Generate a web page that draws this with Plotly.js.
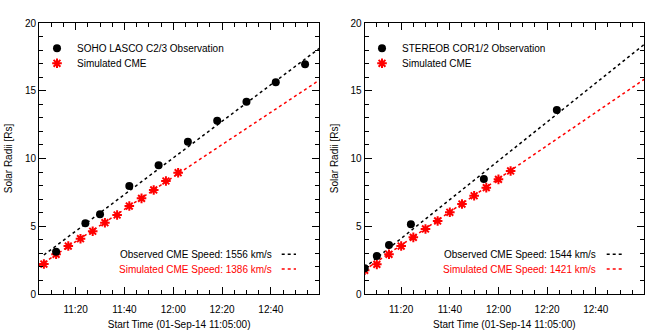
<!DOCTYPE html>
<html>
<head>
<meta charset="utf-8">
<script src="https://cdn.plot.ly/plotly-3.0.1.min.js"></script>
<style>
  html, body { margin: 0; padding: 0; background: #fff; }
  #plot { width: 667px; height: 334px; }
</style>
</head>
<body>
<div id="plot"></div>
<script>
const day = "2014-09-01 ";

// left panel: SOHO LASCO C2/C3
const lascoTimes = ["11:12", "11:24", "11:30", "11:42", "11:54", "12:06", "12:18", "12:30", "12:42", "12:54"];
const lascoR = [3.12, 5.22, 5.88, 7.97, 9.5, 11.24, 12.79, 14.19, 15.62, 16.95];
const simLeftTimes = ["11:07", "11:12", "11:17", "11:22", "11:27", "11:32", "11:37", "11:42", "11:47", "11:52", "11:57", "12:02"];
const simLeftR = [2.21, 2.93, 3.54, 4.08, 4.63, 5.26, 5.83, 6.49, 7.06, 7.68, 8.34, 8.95];
const obsFitLeftTimes = ["11:07", "13:00"];
const obsFitLeftR = [2.88, 18.15];
const simFitLeftTimes = ["11:05", "13:00"];
const simFitLeftR = [2.07, 15.8];

// right panel: STEREO-B COR1/COR2
const stereoTimes = ["11:05", "11:10", "11:15", "11:24", "11:54", "12:24"];
const stereoR = [1.9, 2.8, 3.62, 5.14, 8.49, 13.58];
const simRightTimes = ["11:05", "11:10", "11:15", "11:20", "11:25", "11:30", "11:35", "11:40", "11:45", "11:50", "11:55", "12:00", "12:05"];
const simRightR = [1.75, 2.19, 2.93, 3.54, 4.18, 4.8, 5.39, 6.03, 6.64, 7.25, 7.85, 8.46, 9.08];
const obsFitRightTimes = ["11:05", "13:00"];
const obsFitRightR = [1.95, 18.43];
const simFitRightTimes = ["11:05", "13:00"];
const simFitRightR = [1.77, 15.85];

const speedLabels = [
  "Observed CME Speed: 1556 km/s", "Simulated CME Speed: 1386 km/s",
  "Observed CME Speed: 1544 km/s", "Simulated CME Speed: 1421 km/s"
];

const t = arr => arr.map(s => day + s + ":00");
const font = "Liberation Sans, Arial, sans-serif";
const starMarker = { symbol: "asterisk-open", size: 8, color: "#ff0000", line: { color: "#ff0000", width: 2 } };
const dotMarker = { symbol: "circle", size: 8, color: "#000" };
const dashLine = c => ({ color: c, width: 1.5, dash: "3px,3px" });

const traces = [
  { x: t(simFitLeftTimes), y: simFitLeftR, mode: "lines", line: dashLine("#ff0000"), showlegend: false, xaxis: "x", yaxis: "y" },
  { x: t(obsFitLeftTimes), y: obsFitLeftR, mode: "lines", line: dashLine("#000"), showlegend: false, xaxis: "x", yaxis: "y" },
  { x: t(simLeftTimes), y: simLeftR, mode: "markers", marker: starMarker, name: "Simulated CME", legend: "legend2", xaxis: "x", yaxis: "y" },
  { x: t(lascoTimes), y: lascoR, mode: "markers", marker: dotMarker, name: "SOHO LASCO C2/3 Observation", legend: "legend", xaxis: "x", yaxis: "y" },

  { x: t(simFitRightTimes), y: simFitRightR, mode: "lines", line: dashLine("#ff0000"), showlegend: false, xaxis: "x2", yaxis: "y2" },
  { x: t(obsFitRightTimes), y: obsFitRightR, mode: "lines", line: dashLine("#000"), showlegend: false, xaxis: "x2", yaxis: "y2" },
  { x: t(simRightTimes), y: simRightR, mode: "markers", marker: starMarker, name: "Simulated CME", legend: "legend4", xaxis: "x2", yaxis: "y2" },
  { x: t(stereoTimes), y: stereoR, mode: "markers", marker: dotMarker, name: "STEREOB COR1/2 Observation", legend: "legend3", xaxis: "x2", yaxis: "y2" }
];

const xAxisBase = {
  type: "date",
  range: [day + "11:05:00", day + "12:59:50"],
  tick0: day + "11:00:00",
  dtick: 20 * 60000,
  tickformat: "%H:%M",
  ticks: "inside", ticklen: 7, tickcolor: "#000",
  minor: { dtick: 5 * 60000, ticks: "inside", ticklen: 4, tickcolor: "#000" },
  showline: true, linecolor: "#000", linewidth: 1, mirror: "allticks",
  showgrid: false, zeroline: false,
  ticklabelstandoff: 6,
  tickfont: { family: font, size: 10, color: "#000" },
  title: { text: "Start Time (01-Sep-14 11:05:00)", font: { family: font, size: 10, color: "#000" }, standoff: 6 }
};
const yAxisBase = {
  range: [0, 20], dtick: 5,
  ticks: "inside", ticklen: 7, tickcolor: "#000",
  minor: { dtick: 1, ticks: "inside", ticklen: 4, tickcolor: "#000" },
  showline: true, linecolor: "#000", linewidth: 1, mirror: "allticks",
  showgrid: false, zeroline: false,
  tickfont: { family: font, size: 10, color: "#000" },
  title: { text: "Solar Radii [Rs]", font: { family: font, size: 10, color: "#000" }, standoff: 10 }
};

// paper coordinates are relative to the plotting area inside the margins
const M = { l: 39, r: 23, t: 23, b: 40 };
const W = 667, H = 334;
const px = v => (v - M.l) / (W - M.l - M.r);
const py = v => (H - M.b - v) / (H - M.t - M.b);

const legendBase = (x, y) => ({
  x: px(x), y: py(y), xref: "paper", yref: "paper", xanchor: "left", yanchor: "middle",
  bgcolor: "rgba(0,0,0,0)", borderwidth: 0,
  font: { family: font, size: 10, color: "#000" }
});

const speedY = [254.3, 269];
const speedX = [274, 598.3];
const sampleX = [[281.7, 296], [606.7, 621.7]];
const annotations = [];
const shapes = [];
[0, 1].forEach(p => {
  [0, 1].forEach(k => {
    const col = k === 0 ? "#000" : "#ff0000";
    annotations.push({
      text: speedLabels[p * 2 + k], xref: "paper", yref: "paper",
      x: px(speedX[p]), y: py(speedY[k]), xanchor: "right", yanchor: "middle",
      showarrow: false, font: { family: font, size: 10, color: col }
    });
    shapes.push({
      type: "line", xref: "paper", yref: "paper",
      x0: px(sampleX[p][0]), x1: px(sampleX[p][1]), y0: py(speedY[k]), y1: py(speedY[k]),
      line: { color: col, width: 1.5, dash: "3px,3px" }
    });
  });
});

const layout = {
  width: W, height: H,
  margin: M,
  paper_bgcolor: "#fff", plot_bgcolor: "#fff",
  font: { family: font, size: 10, color: "#000" },
  xaxis: Object.assign({}, xAxisBase, { domain: [0, 0.4633], anchor: "y" }),
  yaxis: Object.assign({}, yAxisBase, { domain: [0, 1], anchor: "x" }),
  xaxis2: Object.assign({}, xAxisBase, { domain: [0.5383, 1], anchor: "y2" }),
  yaxis2: Object.assign({}, yAxisBase, { domain: [0, 1], anchor: "x2" }),
  legend: legendBase(37, 48.3),
  legend2: legendBase(37, 63.3),
  legend3: legendBase(362, 48.3),
  legend4: legendBase(362, 63.3),
  annotations: annotations,
  shapes: shapes
};

Plotly.newPlot("plot", traces, layout, { displayModeBar: false, staticPlot: true });
</script>
</body>
</html>
